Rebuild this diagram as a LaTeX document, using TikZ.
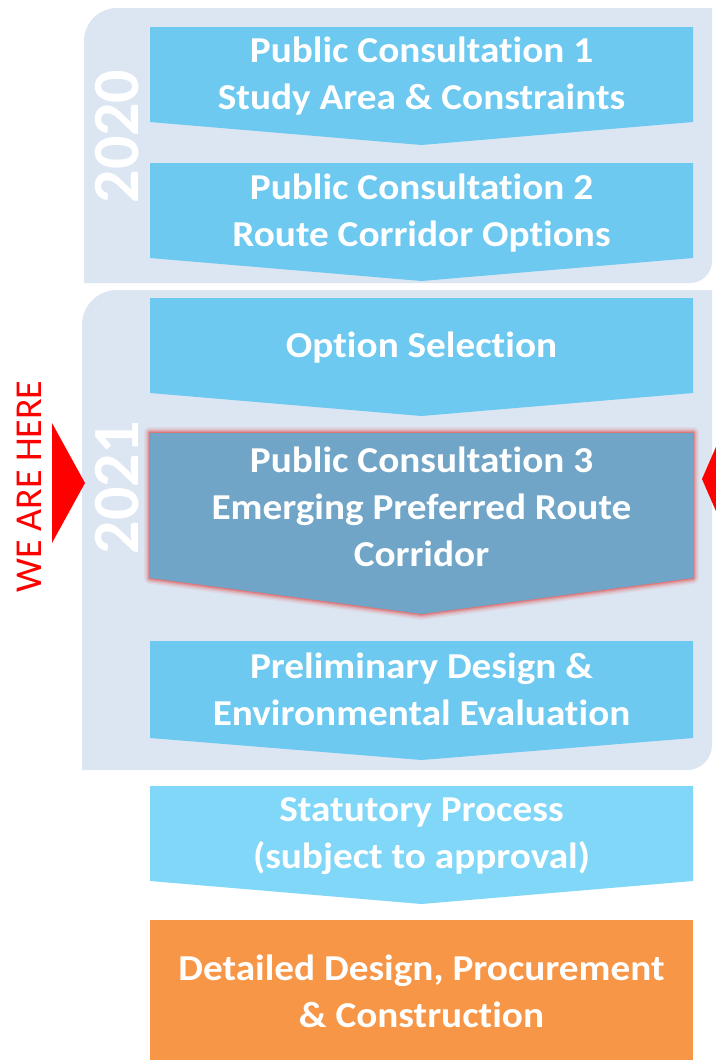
\documentclass[tikz,border=0pt]{standalone}
\usepackage{fontspec}
\setmainfont{Carlito}[Ligatures=NoCommon]
\newfontfamily\boxfont{Carlito}[FakeStretch=1.075, Ligatures=NoCommon]
\definecolor{panel}{HTML}{DCE6F2}
\definecolor{sky}{HTML}{6DC9F0}
\definecolor{skylight}{HTML}{80D7F8}
\definecolor{steel}{HTML}{70A5C8}
\definecolor{orng}{HTML}{F79646}
\definecolor{glowred}{HTML}{E06060}
\definecolor{hereRed}{HTML}{FF0000}
\newcommand\lnstrut{\rule[-8pt]{0pt}{26pt}}
\tikzset{
  boxtext/.style={text=white, font=\boxfont\bfseries\fontsize{36.5}{47}\selectfont, align=center, inner sep=0pt},
  yeartext/.style={text=white, font=\bfseries\fontsize{66}{70}\selectfont, rotate=90, inner sep=0pt},
  heretext/.style={text=hereRed, font=\fontsize{38}{40}\selectfont, rotate=90, inner sep=0pt},
}
\begin{document}
\begin{tikzpicture}[x=1pt,y=-1pt]
\useasboundingbox (0,0) rectangle (715,1060);
\fill[white] (0,0) rectangle (715,1060);
% panels
\fill[panel] (84,283) -- (84,41) arc[start angle=180,end angle=270,radius=33] -- (712,8) -- (712,261) arc[start angle=0,end angle=90,radius=22] -- cycle;
\fill[panel] (82,770) -- (82,325) arc[start angle=180,end angle=270,radius=35] -- (712,290) -- (712,745) arc[start angle=0,end angle=90,radius=25] -- cycle;
% chevrons
\fill[sky] (150,27) -- (693,27) -- (693,122) -- (421.5,145) -- (150,122) -- cycle;
\fill[sky] (150,163) -- (693,163) -- (693,258) -- (421.5,281) -- (150,258) -- cycle;
\fill[sky] (150,298) -- (693,298) -- (693,393) -- (421.5,416) -- (150,393) -- cycle;
% highlighted chevron with red glow
\foreach \w/\o in {12/0.10,9/0.15,6.5/0.22,4/0.35,2/0.55}{
  \draw[glowred, line width=\w pt, opacity=\o, line join=round] (150,433) -- (693,433) -- (693,578) -- (421.5,614) -- (150,578) -- cycle;
}
\fill[steel] (150,433) -- (693,433) -- (693,578) -- (421.5,614) -- (150,578) -- cycle;
\fill[sky] (150,641) -- (693,641) -- (693,738) -- (421.5,760) -- (150,738) -- cycle;
\fill[skylight] (150,786) -- (693,786) -- (693,881) -- (421.5,904) -- (150,881) -- cycle;
\fill[orng] (150,920) rectangle (693,1060);
% texts
\node[boxtext] (pc1) at (421.5,77.5) {\lnstrut Public Consultation 1\\\lnstrut Study Area \& Constraints};
\node[boxtext] (pc2) at (421.5,214) {\lnstrut Public Consultation 2\\\lnstrut Route Corridor Options};
\node[boxtext] (opt) at (421.5,349) {\lnstrut Option Selection};
\node[boxtext] (pc3) at (421.5,511) {\lnstrut Public Consultation 3\\\lnstrut Emerging Preferred Route\\\lnstrut Corridor};
\node[boxtext] (pde) at (421.5,693) {\lnstrut Preliminary Design \&\\\lnstrut Environmental Evaluation};
\node[boxtext] (stat) at (421.5,837.5) {\lnstrut Statutory Process\\\lnstrut (subject to approval)};
\node[boxtext] (det) at (421.5,995) {\lnstrut Detailed Design, Procurement\\\lnstrut \& Construction};
% years
\node[yeartext] (y2020) at (117.5,136.5) {2020};
\node[yeartext] (y2021) at (117.5,487.5) {2021};
% we are here
\node[heretext] (here) at (29.5,486.5) {WE ARE HERE};
\fill[hereRed] (52,423) -- (85,483) -- (52,543) -- cycle;
\fill[hereRed] (732,410) -- (702,479) -- (732,548) -- cycle;
\end{tikzpicture}
\end{document}
